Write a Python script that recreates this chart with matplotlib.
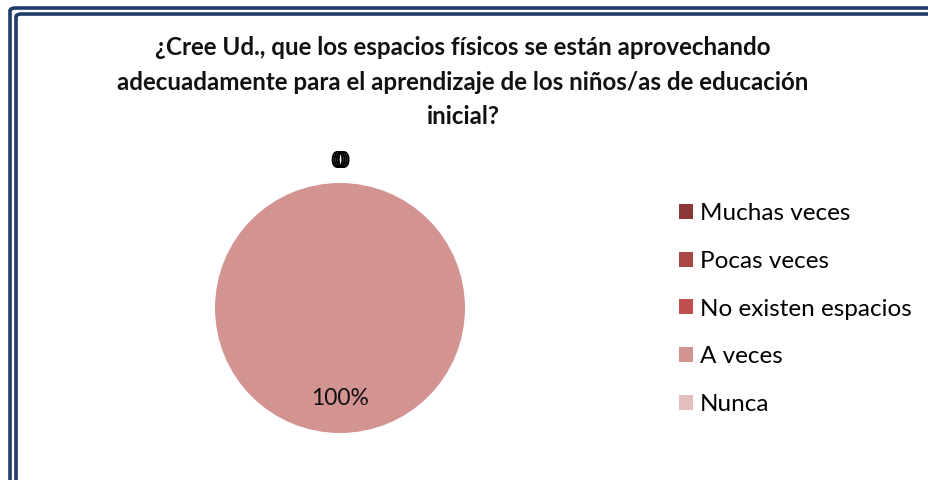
import numpy as np
import matplotlib.pyplot as plt
from matplotlib.patches import Patch, FancyBboxPatch

# Data
categories = ['Muchas veces', 'Pocas veces', 'No existen espacios', 'A veces', 'Nunca']
values = [0, 0, 0, 100, 0]
colors = ['#8C3836', '#A94744', '#C0504D', '#D39391', '#E5BDBC']
title = ('¿Cree Ud., que los espacios físicos se están aprovechando\n'
         'adecuadamente para el aprendizaje de los niños/as de educación\n'
         'inicial?')

plt.rcParams['font.family'] = ['Lato', 'DejaVu Sans']

W, H = 929, 480
fig = plt.figure(figsize=(W / 100, H / 100), dpi=100)
fig.patch.set_facecolor('white')

# double frame (goes past right/bottom edges)
for x0, y0 in [(10, 8), (16, 14)]:
    fig.patches.append(FancyBboxPatch(
        (x0 / W, -0.1), 1.2, (H - y0) / H + 0.1,
        boxstyle='round,pad=0,rounding_size=0.006',
        transform=fig.transFigure, fill=False,
        edgecolor='#1F3D6B', linewidth=2.6))

fig.text(463 / W, 1 - 82 / H, title, ha='center', va='center',
         fontsize=17.4, fontweight='bold', linespacing=1.6, color='#111111')

# pie centred at (340, 308) px, radius 125 px
ax = fig.add_axes([210 / W, (H - 308 - 130) / H, 260 / W, 260 / H])
wedges, _ = ax.pie(values, colors=colors, startangle=90, counterclock=False,
                   wedgeprops=dict(linewidth=0))
ax.set_xlim(-1.04, 1.04)
ax.set_ylim(-1.04, 1.04)
ax.set_aspect('equal')
ax.axis('off')

total = sum(values)
# the zero-value labels sit almost on top of each other, as in the original
zero_shift = [-3.5, -1.5, 0.5, 2.5]
k = 0
for w, v in zip(wedges, values):
    ang = np.deg2rad((w.theta1 + w.theta2) / 2)
    if v == 0:
        ax.annotate('0', xy=(0, 1.17), xytext=(zero_shift[k % 4] * 0.72, 0),
                    textcoords='offset points', ha='center', va='center',
                    fontsize=16.5, color='black', annotation_clip=False)
        k += 1
    else:
        ax.text(0.72 * np.cos(ang), 0.72 * np.sin(ang),
                f'{v / total * 100:.0f}%', ha='center', va='center',
                fontsize=16.5, color='#111111')

handles = [Patch(facecolor=c, edgecolor='none') for c in colors]
fig.legend(handles, categories, loc='center left',
           bbox_to_anchor=(657 / W, 1 - 309 / H), frameon=False,
           fontsize=17.5, handlelength=0.58, handleheight=0.58,
           handletextpad=0.29, labelspacing=1.1)

fig.savefig('out.png', dpi=100)
